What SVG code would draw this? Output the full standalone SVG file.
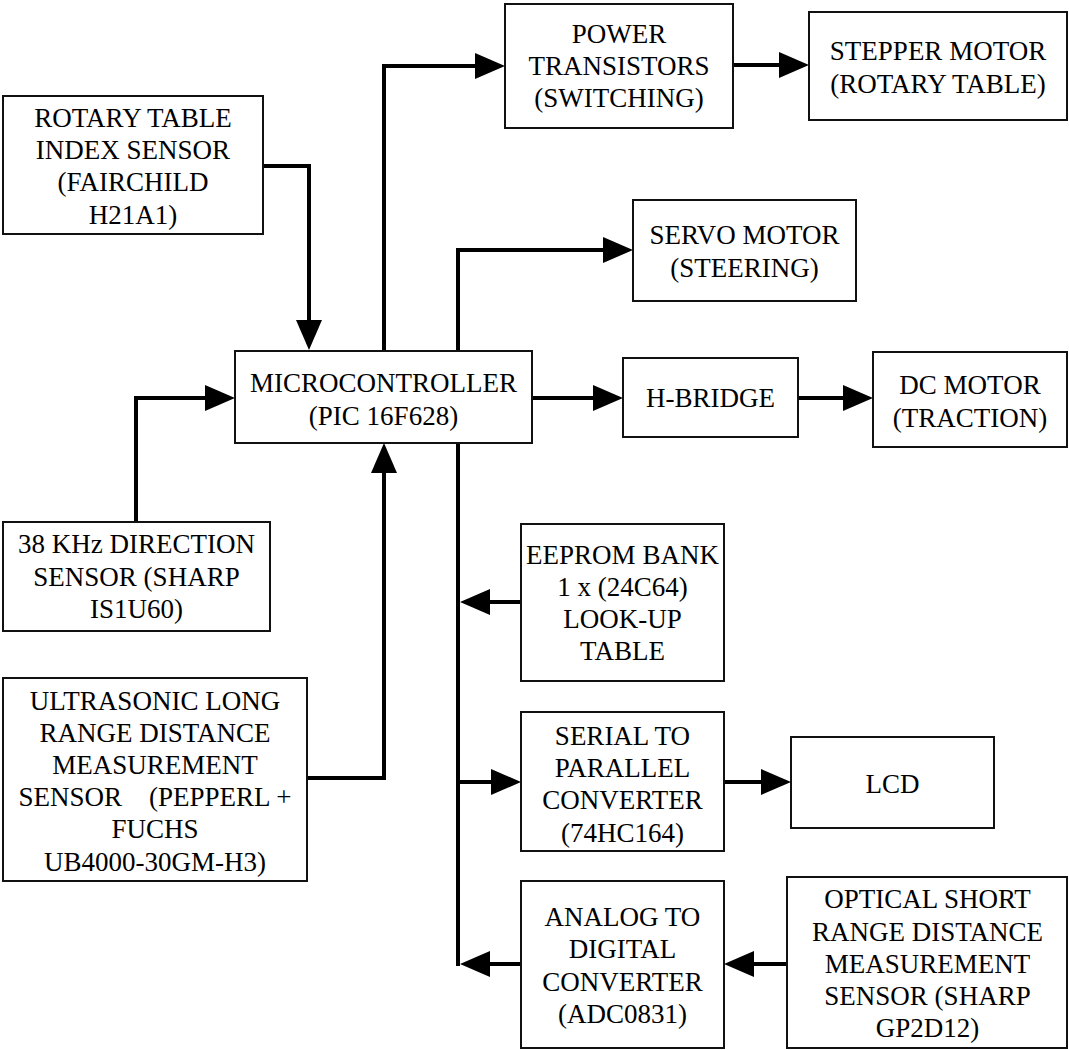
<svg xmlns="http://www.w3.org/2000/svg" width="1069" height="1050" viewBox="0 0 1069 1050">
<style>
.box{fill:#fff;stroke:#111;stroke-width:2}
.t{font-family:"Liberation Serif","Times New Roman",serif;font-size:27px;fill:#000;text-anchor:middle;white-space:pre}
.c{fill:none;stroke:#000;stroke-width:4;stroke-linejoin:miter;marker-end:url(#ah)}
.cn{fill:none;stroke:#000;stroke-width:4}
</style>
<defs>
<marker id="ah" markerUnits="userSpaceOnUse" markerWidth="30" markerHeight="26" viewBox="0 0 30 26" refX="20" refY="13" orient="auto">
<path d="M0,0 L30,13 L0,26 z" fill="#000"/>
</marker>
</defs>
<rect width="1069" height="1050" fill="#fff"/>
<g id="connectors">
<path class="c" d="M263,166 H309 V340"/>
<path class="c" d="M384,351 V66 H495"/>
<path class="c" d="M733,65 H799"/>
<path class="c" d="M458,351 V250 H623"/>
<path class="c" d="M532,398 H613"/>
<path class="c" d="M798,398 H863"/>
<path class="c" d="M136,522 V398 H225"/>
<path class="c" d="M307,778 H384 V453"/>
<path class="cn" d="M458,443 V966"/>
<path class="c" d="M521,602 H470"/>
<path class="c" d="M458,782 H511"/>
<path class="c" d="M724,782 H781"/>
<path class="c" d="M787,964 H734"/>
<path class="c" d="M521,964 H470"/>
</g>
<g id="rotary">
<rect class="box" x="3" y="96" width="260" height="138"/>
<text class="t" x="133" y="127">ROTARY TABLE</text>
<text class="t" x="133" y="159">INDEX SENSOR</text>
<text class="t" x="133" y="191">(FAIRCHILD</text>
<text class="t" x="133" y="224">H21A1)</text>
</g>
<g id="power">
<rect class="box" x="505" y="4" width="228" height="124"/>
<text class="t" x="619" y="43">POWER</text>
<text class="t" x="619" y="75">TRANSISTORS</text>
<text class="t" x="619" y="107">(SWITCHING)</text>
</g>
<g id="stepper">
<rect class="box" x="809" y="12" width="258" height="108"/>
<text class="t" x="938" y="60">STEPPER MOTOR</text>
<text class="t" x="938" y="93">(ROTARY TABLE)</text>
</g>
<g id="servo">
<rect class="box" x="633" y="200" width="223" height="101"/>
<text class="t" x="744.5" y="244">SERVO MOTOR</text>
<text class="t" x="744.5" y="277">(STEERING)</text>
</g>
<g id="micro">
<rect class="box" x="235" y="351" width="297" height="92"/>
<text class="t" x="383.5" y="392">MICROCONTROLLER</text>
<text class="t" x="383.5" y="425">(PIC 16F628)</text>
</g>
<g id="hbridge">
<rect class="box" x="623" y="358" width="175" height="79"/>
<text class="t" x="710.5" y="407">H-BRIDGE</text>
</g>
<g id="dcmotor">
<rect class="box" x="873" y="352" width="194" height="95"/>
<text class="t" x="970" y="394">DC MOTOR</text>
<text class="t" x="970" y="427">(TRACTION)</text>
</g>
<g id="direction">
<rect class="box" x="3" y="522" width="267" height="109"/>
<text class="t" x="136.5" y="553">38 KHz DIRECTION</text>
<text class="t" x="136.5" y="586">SENSOR (SHARP</text>
<text class="t" x="136.5" y="618">IS1U60)</text>
</g>
<g id="eeprom">
<rect class="box" x="521" y="524" width="203" height="157"/>
<text class="t" x="622.5" y="564">EEPROM BANK</text>
<text class="t" x="622.5" y="596">1 x (24C64)</text>
<text class="t" x="622.5" y="628">LOOK-UP</text>
<text class="t" x="622.5" y="660">TABLE</text>
</g>
<g id="ultrasonic">
<rect class="box" x="3" y="678" width="304" height="203"/>
<text class="t" x="155" y="710">ULTRASONIC LONG</text>
<text class="t" x="155" y="742">RANGE DISTANCE</text>
<text class="t" x="155" y="774">MEASUREMENT</text>
<text class="t" x="155" y="806">SENSOR    (PEPPERL +</text>
<text class="t" x="155" y="838">FUCHS</text>
<text class="t" x="155" y="871">UB4000-30GM-H3)</text>
</g>
<g id="serial">
<rect class="box" x="521" y="712" width="203" height="139"/>
<text class="t" x="622.5" y="745">SERIAL TO</text>
<text class="t" x="622.5" y="777">PARALLEL</text>
<text class="t" x="622.5" y="809">CONVERTER</text>
<text class="t" x="622.5" y="842">(74HC164)</text>
</g>
<g id="lcd">
<rect class="box" x="791" y="737" width="203" height="91"/>
<text class="t" x="892.5" y="793">LCD</text>
</g>
<g id="adc">
<rect class="box" x="521" y="881" width="203" height="167"/>
<text class="t" x="622.5" y="926">ANALOG TO</text>
<text class="t" x="622.5" y="958">DIGITAL</text>
<text class="t" x="622.5" y="991">CONVERTER</text>
<text class="t" x="622.5" y="1023">(ADC0831)</text>
</g>
<g id="optical">
<rect class="box" x="787" y="877" width="280" height="171"/>
<text class="t" x="927.5" y="908">OPTICAL SHORT</text>
<text class="t" x="927.5" y="941">RANGE DISTANCE</text>
<text class="t" x="927.5" y="973">MEASUREMENT</text>
<text class="t" x="927.5" y="1005">SENSOR (SHARP</text>
<text class="t" x="927.5" y="1037">GP2D12)</text>
</g>
</svg>
